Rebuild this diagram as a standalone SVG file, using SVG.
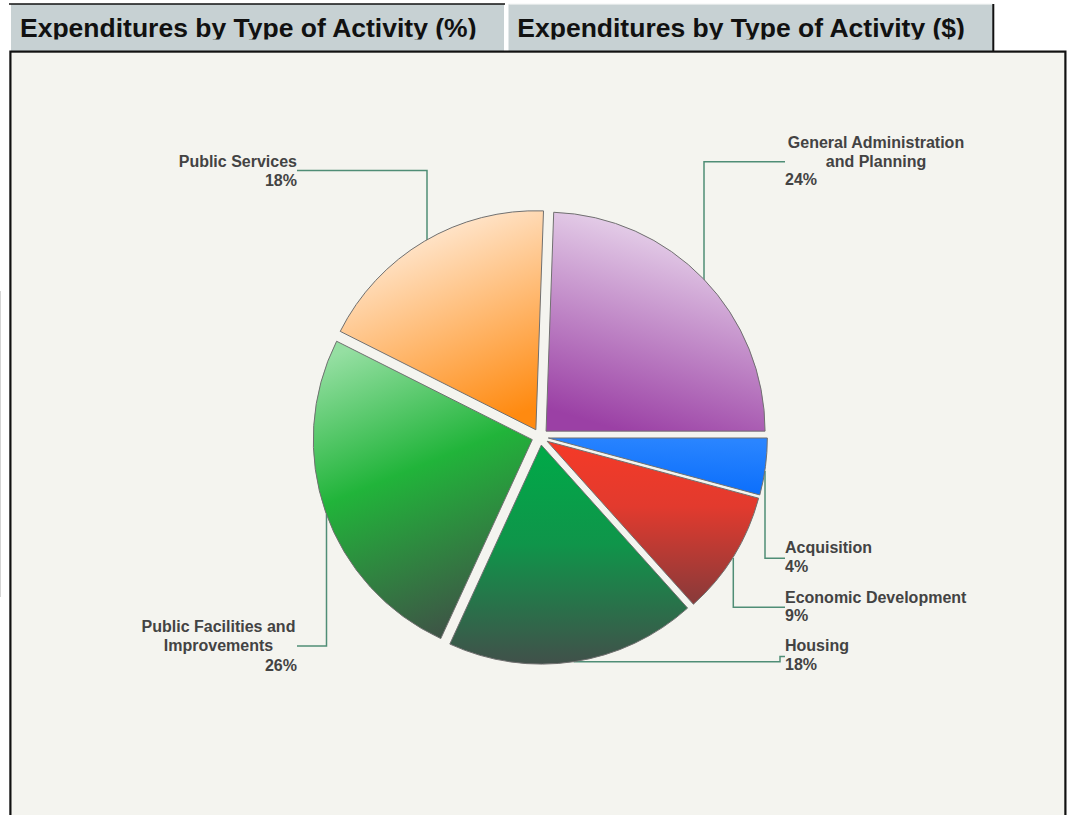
<svg xmlns="http://www.w3.org/2000/svg" width="1071" height="815" viewBox="0 0 1071 815">
<style>
.tab{fill:#c7d1d3}
.title{font-family:"Liberation Sans",Arial,sans-serif;font-weight:bold;font-size:26.5px;fill:#111}
.lbl{font-family:"Liberation Sans",Arial,sans-serif;font-weight:bold;font-size:16px;fill:#434343}
.slice{stroke:#707070;stroke-width:1}
.lead{fill:none;stroke:#4f8d76;stroke-width:1.5}
</style>
<defs>
<clipPath id="tabclip"><rect x="0" y="0" width="1071" height="39.4"/></clipPath>
<linearGradient id="gPurple" x1="0.65" y1="0" x2="0.35" y2="1"><stop offset="0" stop-color="#eee1f1"/><stop offset="1" stop-color="#9b40a5"/></linearGradient>
<linearGradient id="gOrange" x1="0.3" y1="0" x2="0.7" y2="1"><stop offset="0" stop-color="#fff2e6"/><stop offset="1" stop-color="#ff8a10"/></linearGradient>
<linearGradient id="gPF" x1="0.25" y1="0" x2="0.55" y2="1"><stop offset="0" stop-color="#95dfa2"/><stop offset="0.45" stop-color="#21b43a"/><stop offset="1" stop-color="#3e5446"/></linearGradient>
<linearGradient id="gHousing" x1="0.5" y1="0" x2="0.5" y2="1"><stop offset="0" stop-color="#00aa48"/><stop offset="0.45" stop-color="#0f954a"/><stop offset="1" stop-color="#41504a"/></linearGradient>
<linearGradient id="gRed" x1="0.5" y1="0" x2="0.5" y2="1"><stop offset="0" stop-color="#f53a27"/><stop offset="0.4" stop-color="#e23a2e"/><stop offset="1" stop-color="#873a3a"/></linearGradient>
<linearGradient id="gBlue" x1="0.6" y1="0" x2="0.4" y2="1"><stop offset="0" stop-color="#2a85ff"/><stop offset="1" stop-color="#086cfb"/></linearGradient>
</defs>
<rect x="0" y="0" width="1071" height="815" fill="#ffffff"/>
<line x1="0.5" y1="291" x2="0.5" y2="597" stroke="#d4d4d4" stroke-width="1"/>
<g id="tabs">
<rect class="tab" x="11" y="4" width="493" height="48"/>
<line x1="9" y1="4" x2="505" y2="4" stroke="#111" stroke-width="1.5"/>
<rect class="tab" x="508.5" y="4.5" width="485" height="47.5"/>
<line x1="508.5" y1="4.3" x2="993" y2="4.3" stroke="#e2e6e6" stroke-width="1"/>
<line x1="993.3" y1="4" x2="993.3" y2="52" stroke="#111" stroke-width="2"/>
<g clip-path="url(#tabclip)">
<text class="title" x="20" y="37.3">Expenditures by Type of Activity (%)</text>
<text class="title" x="517.3" y="37.3">Expenditures by Type of Activity ($)</text>
</g>
</g>
<rect id="panel" x="10.4" y="51.6" width="1055" height="800" fill="#f4f4ef" stroke="#111" stroke-width="2.2"/>
<g id="connectors">
<path class="lead" d="M427,242 V170.5 H297"/>
<path class="lead" d="M704,281 V161.7 H785"/>
<path class="lead" d="M765,471 V558.3 H785"/>
<path class="lead" d="M733.3,558 V607.3 H785"/>
<path class="lead" d="M573.7,661.7 H780 V656.5 H785"/>
<path class="lead" d="M326.5,514 V646 H297"/>
</g>
<g id="general-administration">
<path class="slice" fill="url(#gPurple)" d="M546.07,431.13 L553.71,212.26 A219,219 0 0 1 765.07,431.13 Z"/>
<text class="lbl" x="876" y="148.3" text-anchor="middle">General Administration</text>
<text class="lbl" x="876" y="166.7" text-anchor="middle">and Planning</text>
<text class="lbl" x="785" y="185">24%</text>
</g>
<g id="acquisition">
<path class="slice" fill="url(#gBlue)" d="M548.33,437.99 L767.33,437.99 A219,219 0 0 1 759.80,494.93 Z"/>
<text class="lbl" x="785" y="553.3">Acquisition</text>
<text class="lbl" x="785" y="572.3">4%</text>
</g>
<g id="economic-development">
<path class="slice" fill="url(#gRed)" d="M547.17,441.25 L758.64,498.19 A219,219 0 0 1 693.42,604.25 Z"/>
<text class="lbl" x="785" y="602.7">Economic Development</text>
<text class="lbl" x="785" y="621.3">9%</text>
</g>
<g id="housing">
<path class="slice" fill="url(#gHousing)" d="M541.34,445.11 L687.59,608.11 A219,219 0 0 1 449.83,644.07 Z"/>
<text class="lbl" x="785" y="651">Housing</text>
<text class="lbl" x="785" y="670">18%</text>
</g>
<g id="public-facilities">
<path class="slice" fill="url(#gPF)" d="M532.27,439.64 L440.76,638.60 A219,219 0 0 1 336.62,341.24 Z"/>
<text class="lbl" x="218.5" y="631.7" text-anchor="middle">Public Facilities and</text>
<text class="lbl" x="218.5" y="650.7" text-anchor="middle">Improvements</text>
<text class="lbl" x="297" y="670.7" text-anchor="end">26%</text>
</g>
<g id="public-services">
<path class="slice" fill="url(#gOrange)" d="M535.87,429.76 L340.22,331.36 A219,219 0 0 1 543.51,210.89 Z"/>
<text class="lbl" x="297" y="166.7" text-anchor="end">Public Services</text>
<text class="lbl" x="297" y="186" text-anchor="end">18%</text>
</g>
</svg>
